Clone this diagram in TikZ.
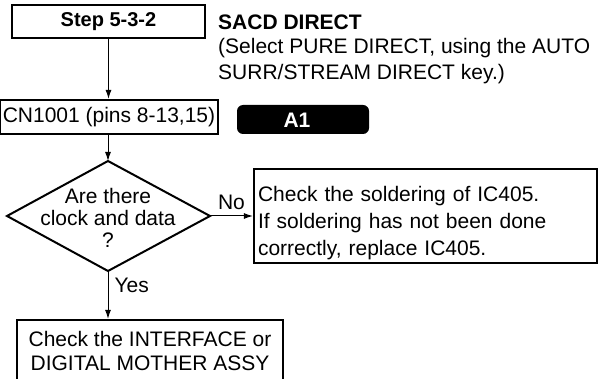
\documentclass[tikz,border=0pt]{standalone}
\usepackage{fontspec}
\setmainfont{Liberation Sans}
\usetikzlibrary{arrows.meta}
\tikzset{
  fsize/.style={font=\fontsize{21}{#1}\selectfont},
  thickbox/.style={draw, line width=2.2pt, inner sep=3pt},
  flow/.style={line width=1pt, ->},
}
\begin{document}
\begin{tikzpicture}[x=1pt, y=-1pt, >={Latex[length=9pt,width=6pt]}, fsize=25, line join=miter]
	\useasboundingbox (0,0) rectangle (602,379);
	\clip (0,0) rectangle (602,379);
	% header
	\node[thickbox, minimum width=193pt, minimum height=33pt, font=\fontsize{20}{24}\selectfont\bfseries] (step) at (108.5,21.5) {Step 5-3-2};
	\node[anchor=west, inner sep=0pt, font=\fontsize{21}{25}\selectfont\bfseries] (title) at (218,22) {SACD DIRECT};
	\node[anchor=north west, inner sep=0pt, align=left, fsize=26] (note) at (218,38) {(Select PURE DIRECT, using the AUTO\\SURR/STREAM DIRECT key.)};
	% connector and board label
	\node[thickbox, minimum width=216pt, minimum height=34pt] (cn) at (109,117) {CN1001 (pins 8-13,15)};
	\node[fill=black, rounded corners=6pt, minimum width=132pt, minimum height=29pt] (board) at (303,119.5) {};
	\node[text=white, inner sep=0pt, font=\fontsize{21}{25}\selectfont\bfseries] (boardname) at (297,120) {A1};
	% decision
	\path
		(108,161) coordinate (qT)
		(7,216) coordinate (qL)
		(210,216) coordinate (qR)
		(108,271) coordinate (qB)
		;
	\draw[line width=2pt] (qT)--(qR)--(qB)--(qL)--cycle;
	\node[align=center, inner sep=0pt, fsize=22] (q) at (108,218) {Are there\\clock and data\\?};
	% results
	\node[thickbox, minimum width=343pt, minimum height=86pt, text width=335pt, inner xsep=4pt, align=left, fsize=27] (fix) at (425.5,216) {\rule{0pt}{30pt}Check the soldering of IC405.\\If soldering has not been done\\correctly, replace IC405.};
	\node[thickbox, minimum width=266pt, minimum height=80pt, align=center, fsize=24] (assy) at (150,360) {Check the INTERFACE or\\DIGITAL MOTHER ASSY\\[-6pt]};
	% flow
	\draw[flow] (step.south) -- (step.south |- cn.north);
	\draw[flow] (cn.south -| qT) -- (qT);
	\draw[flow] (qR) -- node[above, inner sep=0pt, yshift=6pt] (no) {No} (qR -| fix.west);
	\draw[flow] (qB) -- node[right, inner sep=0pt, xshift=6pt, yshift=10pt] (yes) {Yes} (qB |- assy.north);
\end{tikzpicture}
\end{document}
